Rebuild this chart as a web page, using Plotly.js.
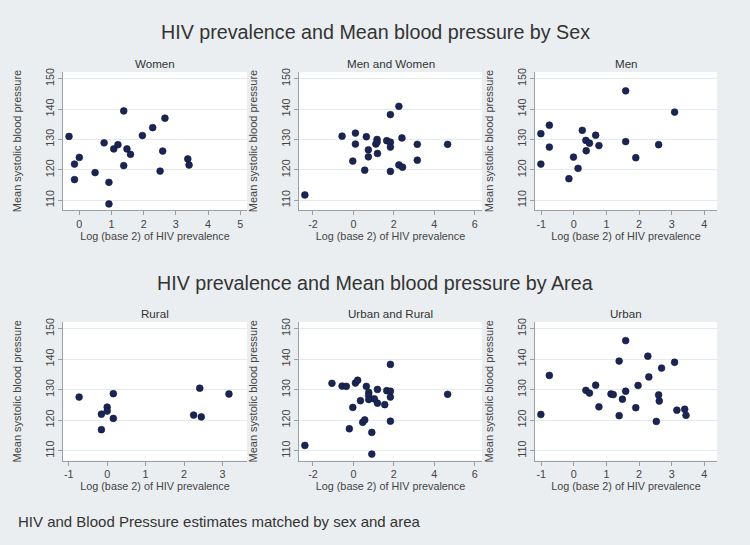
<!DOCTYPE html>
<html>
<head>
<meta charset="utf-8">
<script src="https://cdn.plot.ly/plotly-3.0.1.min.js"></script>
<style>html,body{margin:0;padding:0;background:#eaeef1;}#chart{width:750px;height:545px;}</style>
</head>
<body>
<div id="chart"></div>
<script>
// ---- Data (log2 HIV prevalence, mean systolic blood pressure) ----
const womenX = [-0.32,-0.15,-0.15,0.00,0.49,0.77,0.92,0.92,1.07,1.20,1.38,1.38,1.48,1.59,1.96,2.28,2.51,2.59,2.66,3.37,3.41];
const womenY = [131.0,121.9,116.8,124.1,119.1,128.9,115.9,108.8,126.9,128.3,139.4,121.4,126.9,125.1,131.3,133.9,119.6,126.2,137.0,123.6,121.6];

const bothSexX = [-2.40,-0.56,0.10,0.10,-0.03,0.56,0.64,0.74,0.74,1.11,1.17,1.17,1.19,1.65,1.83,1.83,1.83,1.83,2.25,2.25,2.43,2.40,3.16,3.16,4.66];
const bothSexY = [111.75,131.1,132.1,128.5,122.9,119.9,130.9,126.6,124.3,128.5,130.0,129.1,125.4,129.6,129.1,127.5,138.2,119.5,140.9,121.6,120.9,130.5,128.4,123.2,128.4];

const menX = [-1.01,-1.01,-0.75,-0.75,-0.15,-0.01,0.13,0.26,0.37,0.38,0.48,0.67,0.77,1.59,1.59,1.90,2.60,3.09];
const menY = [131.9,121.9,134.7,127.5,117.1,124.2,120.5,133.0,129.7,126.3,128.8,131.4,128.0,146.0,129.3,124.0,128.3,139.0];

const ruralX = [-0.73,-0.15,-0.15,0.00,0.00,0.16,0.16,2.25,2.41,2.45,3.17];
const ruralY = [127.6,122.0,116.9,124.3,123.0,128.7,120.6,121.7,130.5,121.1,128.6];

const bothAreaX = [-2.40,-1.06,-0.56,-0.35,-0.20,-0.03,0.10,0.21,0.35,0.46,0.56,0.64,0.76,0.76,0.76,0.91,0.91,1.04,1.19,1.19,1.55,1.65,1.83,1.83,1.83,1.83,4.66];
const bothAreaY = [111.75,132.1,131.2,131.1,117.2,124.2,132.2,133.1,126.4,119.3,120.1,131.1,129.1,128.1,126.8,116.0,108.9,127.0,130.1,125.6,125.1,129.7,138.3,129.5,127.6,119.7,128.5];

const urbanX = [-1.01,-0.75,0.37,0.48,0.67,0.77,1.14,1.21,1.39,1.39,1.49,1.59,1.59,1.90,1.97,2.27,2.30,2.53,2.60,2.62,2.69,3.09,3.16,3.40,3.44];
const urbanY = [121.9,134.7,129.8,128.9,131.5,124.4,128.6,128.4,139.4,121.5,126.9,146.1,129.5,124.1,131.4,141.0,134.2,119.6,128.3,126.3,137.1,139.0,123.3,123.6,121.6];

const panelTitles = ["Women","Men and Women","Men","Rural","Urban and Rural","Urban"];
const rowTitles = ["HIV prevalence and Mean blood pressure by Sex","HIV prevalence and Mean blood pressure by Area"];
const xTitle = "Log (base 2) of HIV prevalence";
const yTitle = "Mean systolic blood pressure";
const noteText = "HIV and Blood Pressure estimates matched by sex and area";
const yTicks = [110,120,130,140,150];
const xTicks = [[0,1,2,3,4,5],[-2,0,2,4,6],[-1,0,1,2,3,4],[-1,0,1,2,3],[-2,0,2,4,6],[-1,0,1,2,3,4]];

// ---- Layout geometry ----
const W = 750, H = 545;
const colDom = [[63/W,247/W],[299/W,482/W],[535/W,717/W]];
const rowDom = [[1-210/H,1-72/H],[1-460.5/H,1-322/H]];
const xRanges = [[-0.507,5.21],[-2.69,6.36],[-1.19,4.39],[-1.15,3.64],[-2.69,6.36],[-1.19,4.39]];
const yRange = [106.8,152.2];

const xs = [womenX,bothSexX,menX,ruralX,bothAreaX,urbanX];
const ys = [womenY,bothSexY,menY,ruralY,bothAreaY,urbanY];

const font = "Liberation Sans, Arial, Helvetica, sans-serif";
const traces = [];
const layout = {
  width: W, height: H,
  margin: {l:0,r:0,t:0,b:0},
  paper_bgcolor: "#eaeef1",
  plot_bgcolor: "#ffffff",
  showlegend: false,
  hovermode: false,
  font: {family: font, color: "#3b3b3b"},
  annotations: []
};

for (let i = 0; i < 6; i++) {
  const r = Math.floor(i/3), c = i % 3;
  const n = i + 1;
  const xa = n === 1 ? "x" : "x" + n;
  const ya = n === 1 ? "y" : "y" + n;
  traces.push({
    type: "scatter", mode: "markers",
    x: xs[i], y: ys[i], xaxis: xa, yaxis: ya,
    marker: {size: 6.8, color: "#1b2553", line: {width: 0.6, color: "#0f1838"}},
    cliponaxis: false
  });
  const xKey = n === 1 ? "xaxis" : "xaxis" + n;
  const yKey = n === 1 ? "yaxis" : "yaxis" + n;
  layout[xKey] = {
    domain: colDom[c], anchor: ya, range: xRanges[i],
    tickmode: "array", tickvals: xTicks[i], ticktext: xTicks[i].map(String),
    showgrid: false, zeroline: false,
    showline: true, linecolor: "#9a9fa6", linewidth: 1,
    ticks: "outside", ticklen: 4, tickcolor: "#9a9fa6",
    tickfont: {size: 10.8, color: "#444", family: font},
    title: {text: xTitle, font: {size: 10.8, color: "#444", family: font}, standoff: 1},
    automargin: false, fixedrange: true
  };
  layout[yKey] = {
    domain: rowDom[r], anchor: xa, range: yRange,
    tickmode: "array", tickvals: yTicks, ticktext: yTicks.map(String),
    tickangle: -90,
    showgrid: true, gridcolor: "#e3eced", gridwidth: 1,
    zeroline: false,
    showline: true, linecolor: "#9a9fa6", linewidth: 1,
    ticks: "outside", ticklen: 4, tickcolor: "#9a9fa6",
    tickfont: {size: 10.8, color: "#444", family: font},
    title: {text: yTitle, font: {size: 11, color: "#444", family: font}, standoff: 19},
    automargin: false, fixedrange: true
  };
  layout.annotations.push({
    text: panelTitles[i], xref: "paper", yref: "paper",
    x: (colDom[c][0]+colDom[c][1])/2, y: rowDom[r][1] + 9/H,
    xanchor: "center", yanchor: "middle", showarrow: false,
    font: {size: 11.6, color: "#333", family: font}
  });
}
layout.annotations.push({
  text: rowTitles[0], xref: "paper", yref: "paper",
  x: 0.5, y: 1 - 31.5/H, xanchor: "center", yanchor: "middle", showarrow: false,
  font: {size: 19.7, color: "#333", family: font}
});
layout.annotations.push({
  text: rowTitles[1], xref: "paper", yref: "paper",
  x: 0.5, y: 1 - 283/H, xanchor: "center", yanchor: "middle", showarrow: false,
  font: {size: 19.7, color: "#333", family: font}
});
layout.annotations.push({
  text: noteText, xref: "paper", yref: "paper",
  x: 16/W, y: 1 - 521/H, xanchor: "left", yanchor: "middle", showarrow: false,
  font: {size: 15, color: "#333", family: font}
});

Plotly.newPlot("chart", traces, layout, {staticPlot: true, displayModeBar: false});
</script>
</body>
</html>
